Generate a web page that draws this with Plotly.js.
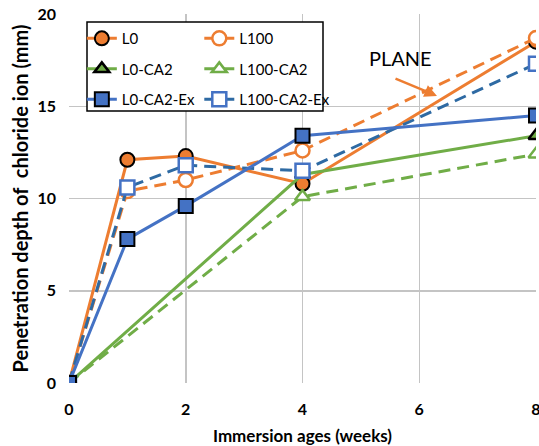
<!DOCTYPE html>
<html><head><meta charset="utf-8">
<script src="https://cdn.plot.ly/plotly-3.0.1.min.js"></script>
<style>body{margin:0;background:#fff}#c{width:539px;height:446px}</style>
</head><body><div id="c"></div>
<script>
const weeksFull = [0, 1, 2, 4, 8];
const weeksCA2 = [0, 4, 8];
const L0 = [0, 12.1, 12.3, 10.8, 18.5];
const L100 = [0, 10.4, 11.0, 12.6, 18.7];
const L0_CA2 = [0, 11.3, 13.4];
const L100_CA2 = [0, 10.1, 12.4];
const L0_CA2_Ex = [0, 7.8, 9.6, 13.4, 14.5];
const L100_CA2_Ex = [0, 10.6, 11.8, 11.5, 17.3];
const names = ['L0', 'L100', 'L0-CA2', 'L100-CA2', 'L0-CA2-Ex', 'L100-CA2-Ex'];

const ORANGE = '#ED7D31', GREEN = '#70AD47', BLUE = '#4472C4', DBLUE = '#2E6AA3';
const DASH = '12px,7px';
const FONT = 'Lato, "Open Sans", sans-serif';

const traces = [
  {x: weeksFull, y: L0, name: names[0], legend: 'legend', legendgroup: 'a', mode: 'lines+markers',
   line: {color: ORANGE, width: 3},
   marker: {symbol: 'circle', size: 14, color: ORANGE, line: {color: '#000', width: 2}}},
  {x: weeksFull, y: L100, name: names[1], legend: 'legend2', legendgroup: 'b', mode: 'lines+markers',
   line: {color: ORANGE, width: 3, dash: DASH},
   marker: {symbol: 'circle', size: 14, color: '#fff', line: {color: ORANGE, width: 2.5}}},
  {x: weeksCA2, y: L0_CA2, name: names[2], legend: 'legend', legendgroup: 'c', mode: 'lines+markers',
   line: {color: GREEN, width: 3},
   marker: {symbol: 'triangle-up', size: 13, color: GREEN, line: {color: '#000', width: 2.5}}},
  {x: weeksCA2, y: L100_CA2, name: names[3], legend: 'legend2', legendgroup: 'd', mode: 'lines+markers',
   line: {color: GREEN, width: 3, dash: DASH},
   marker: {symbol: 'triangle-up', size: 13, color: '#fff', line: {color: GREEN, width: 2.5}}},
  {x: weeksFull, y: L100_CA2_Ex, name: names[5], legend: 'legend2', legendgroup: 'f', mode: 'lines+markers',
   line: {color: DBLUE, width: 3, dash: DASH},
   marker: {symbol: 'square', size: 14, color: '#fff', line: {color: BLUE, width: 2.5}}},
  {x: weeksFull, y: L0_CA2_Ex, name: names[4], legend: 'legend', legendgroup: 'e', mode: 'lines+markers',
   line: {color: BLUE, width: 3},
   marker: {symbol: 'square', size: 14, color: BLUE, line: {color: '#000', width: 2}}}
];

const legendCommon = {
  bgcolor: 'rgba(0,0,0,0)', borderwidth: 0, orientation: 'v',
  font: {family: FONT, size: 15, color: '#000'}, itemwidth: 30,
  tracegroupgap: 8, xanchor: 'left', yanchor: 'top', traceorder: 'grouped'
};

const layout = {
  width: 539, height: 446,
  margin: {l: 69, r: 3, t: 14, b: 63},
  paper_bgcolor: '#fff', plot_bgcolor: '#fff',
  font: {family: FONT, color: '#000'},
  showlegend: true,
  legend: Object.assign({}, legendCommon, {x: 0.0275, y: 0.978}),
  legend2: Object.assign({}, legendCommon, {x: 0.279, y: 0.978}),
  xaxis: {
    range: [0, 8], tickvals: [0, 2, 4, 6, 8], ticks: '',
    showgrid: true, gridcolor: '#C4C4C4', gridwidth: 1.5,
    zeroline: false, showline: false,
    tickfont: {family: FONT, size: 16, color: '#000', weight: 'bold'},
    ticklabelstandoff: 15, ticklabeloverflow: 'allow',
    title: {text: 'Immersion ages (weeks)', standoff: 34,
            font: {family: FONT, size: 17, color: '#000', weight: 'bold'}},
    automargin: false
  },
  yaxis: {
    range: [0, 20], tickvals: [0, 5, 10, 15, 20], ticks: '',
    showgrid: true, gridcolor: '#C4C4C4', gridwidth: 1.5,
    zeroline: false, showline: false,
    tickfont: {family: FONT, size: 16, color: '#000', weight: 'bold'},
    ticklabelstandoff: 12,
    title: {text: 'Penetration depth of  chloride ion (mm)', standoff: 3,
            font: {family: FONT, size: 20, color: '#000', weight: 'bold'}},
    automargin: false
  },
  shapes: [
    {type: 'rect', xref: 'paper', yref: 'paper', layer: 'above',
     x0: (87 - 69) / 467, x1: (323 - 69) / 467,
     y0: (383.3 - 111) / 369.3, y1: (383.3 - 22) / 369.3,
     fillcolor: '#fff', line: {color: '#000', width: 1.5}}
  ],
  annotations: [
    {x: (400 - 69) / 467, y: (383.3 - 58) / 369.3, xref: 'paper', yref: 'paper',
     xanchor: 'center', yanchor: 'middle',
     text: 'PLANE', showarrow: false, font: {family: FONT, size: 20, color: '#000'}},
    {x: (437 - 69) / 467, y: (383.3 - 96) / 369.3, xref: 'paper', yref: 'paper',
     text: '', showarrow: true, ax: -43, ay: -18, arrowhead: 2, arrowsize: 1,
     arrowwidth: 2.5, arrowcolor: ORANGE}
  ]
};

Plotly.newPlot('c', traces, layout, {displayModeBar: false, staticPlot: true});
</script>
</body></html>
